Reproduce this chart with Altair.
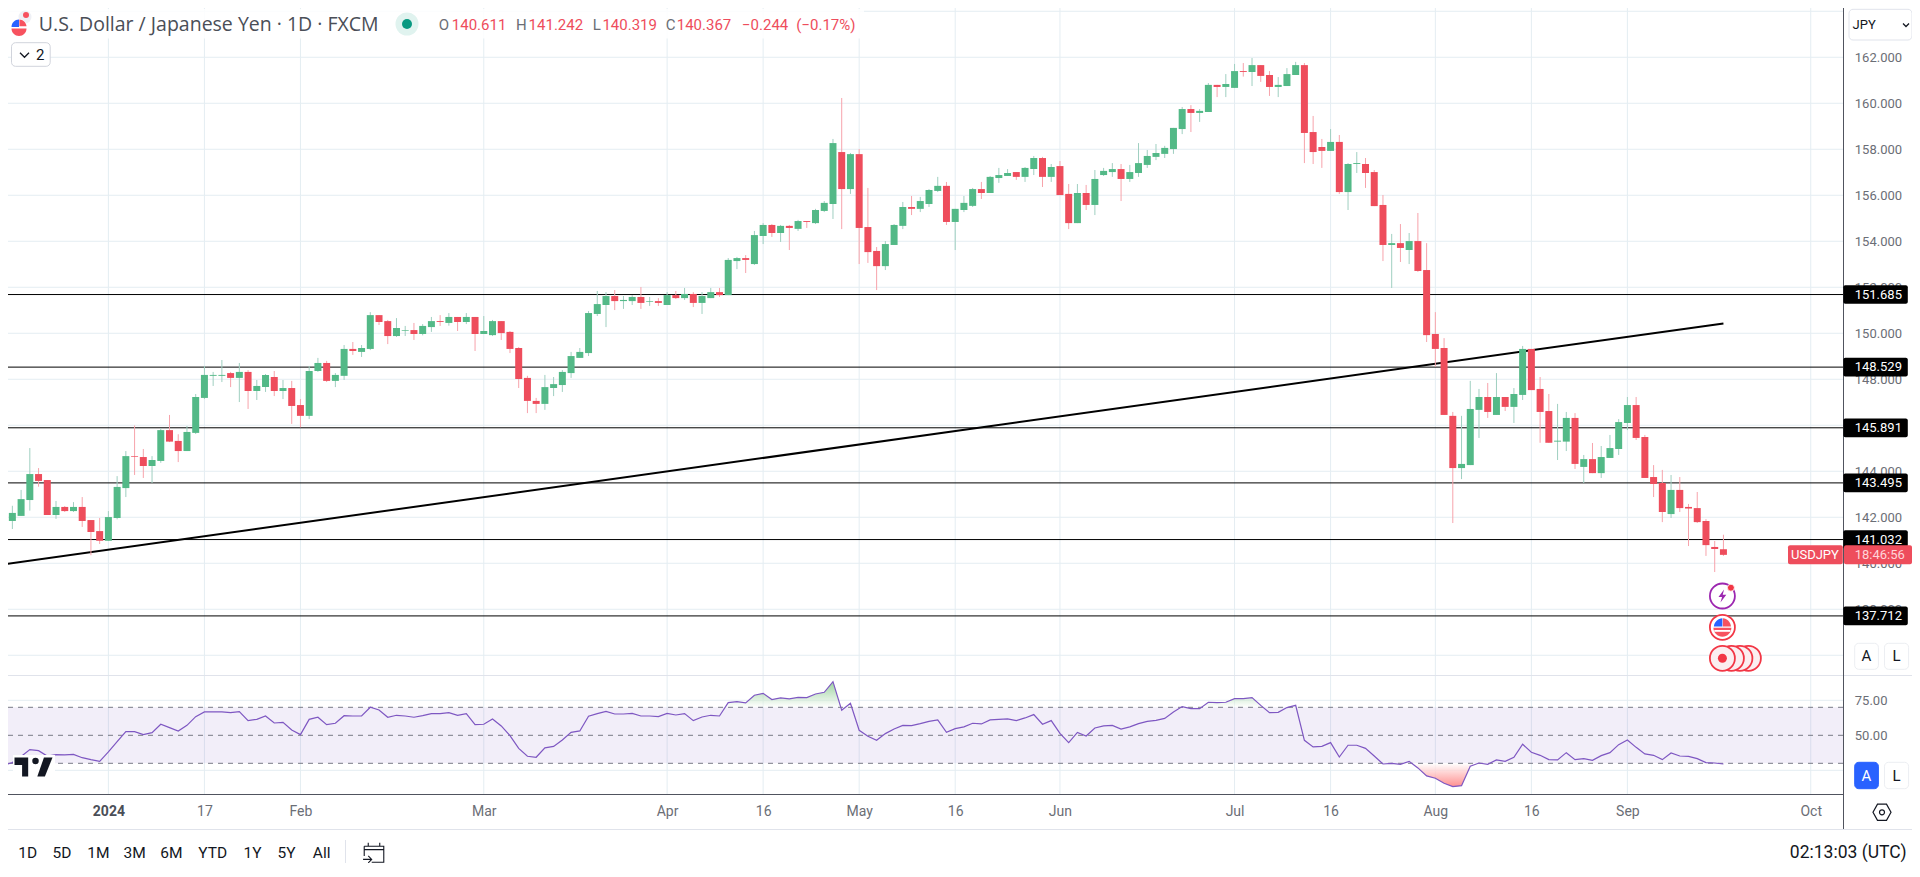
import altair as alt
import pandas as pd

first_bar = -12
opens = [142.93,141.84,142.06,142.75,143.88,143.62,142.10,142.45,142.27,142.45,141.88,141.40,
140.98,141.97,143.27,144.66,144.62,144.23,144.45,145.79,145.32,144.88,
145.67,147.19,148.15,148.15,148.27,148.06,148.32,147.49,147.66,148.10,
147.49,147.62,146.88,146.41,148.36,148.71,147.93,148.15,149.32,149.19,
149.32,150.79,150.53,149.88,150.11,150.14,149.97,150.27,150.53,150.45,
150.71,150.49,150.71,149.97,149.92,150.53,150.06,149.36,148.06,147.06,
146.93,147.62,147.75,148.27,148.93,149.14,150.84,151.23,151.62,151.40,
151.40,151.58,151.37,151.40,151.23,151.66,151.53,151.71,151.32,151.53,
151.79,151.66,153.14,153.27,153.01,154.23,154.71,154.36,154.67,154.54,
154.88,154.79,155.32,155.62,157.88,156.27,157.79,154.62,153.58,152.92,
153.84,154.67,155.49,155.41,155.62,156.19,156.41,154.84,155.36,155.54,
156.27,156.10,156.75,156.84,157.01,156.80,157.14,157.62,156.80,157.27,
156.06,154.79,156.10,155.58,156.88,157.01,157.14,156.71,156.97,157.32,
157.67,157.80,158.01,158.88,159.75,159.58,159.62,160.80,160.71,160.67,
161.40,161.36,161.66,161.23,160.71,160.75,161.23,161.66,158.75,158.10,
157.93,158.32,156.14,157.36,157.36,157.01,155.58,153.84,153.92,153.62,
154.01,152.75,149.97,149.36,146.41,144.14,144.27,146.67,147.23,146.45,
147.23,146.80,147.32,149.32,147.58,146.62,145.29,145.29,146.32,144.19,
144.53,143.92,144.58,144.97,146.10,146.88,145.49,143.75,143.49,142.14,
143.19,142.45,142.40,141.84,140.71,140.611]
closes = [141.85,142.19,142.79,143.88,143.58,142.10,142.45,142.27,142.45,141.84,141.36,140.98,
142.01,143.32,144.66,144.63,144.23,144.49,145.79,145.29,144.88,145.71,
147.23,148.19,148.19,148.19,148.06,148.32,147.49,147.71,148.19,147.49,
147.62,146.84,146.41,148.36,148.71,147.93,148.19,149.32,149.23,149.36,
150.79,150.49,149.88,150.23,150.14,149.97,150.32,150.53,150.49,150.71,
150.49,150.71,149.97,150.10,150.53,150.01,149.32,148.01,147.06,146.93,
147.66,147.79,148.32,149.01,149.19,150.88,151.27,151.62,151.40,151.45,
151.58,151.32,151.40,151.32,151.66,151.53,151.71,151.32,151.62,151.79,
151.66,153.19,153.27,153.19,154.27,154.71,154.36,154.67,154.58,154.88,
154.84,155.36,155.67,158.27,156.27,157.79,154.58,153.53,152.92,153.88,
154.71,155.49,155.41,155.75,156.23,156.41,154.84,155.41,155.67,156.27,
156.10,156.80,156.88,156.97,156.80,157.19,157.62,156.80,157.23,156.01,
154.79,156.10,155.58,156.71,157.06,157.14,156.71,157.01,157.40,157.71,
157.84,158.06,158.93,159.75,159.58,159.67,160.80,160.71,160.84,161.40,
161.36,161.66,161.19,160.71,160.80,161.27,161.66,158.71,157.88,157.93,
158.32,156.14,157.36,157.40,156.97,155.53,153.84,153.92,153.71,154.01,
152.71,149.92,149.32,146.45,144.14,144.32,146.71,147.23,146.58,147.23,
146.80,147.36,149.32,147.53,146.58,145.24,145.33,146.32,144.32,144.53,
143.92,144.62,145.01,146.14,146.88,145.45,143.71,143.45,142.23,143.19,
142.40,142.38,141.79,140.79,140.62,140.367]
highs = [142.97,142.50,143.19,145.01,144.14,143.62,142.71,142.49,142.66,142.88,141.88,141.97,
142.27,143.79,144.88,145.99,144.97,144.66,145.87,146.45,145.61,145.97,
147.36,148.58,148.32,148.84,148.32,148.71,148.40,147.97,148.23,148.36,
147.97,147.93,147.14,148.58,148.93,148.80,148.27,149.49,149.62,149.49,
150.92,150.79,150.58,150.66,150.32,150.45,150.40,150.71,150.79,150.88,
150.71,150.88,150.71,150.75,150.58,150.53,150.10,149.40,148.15,147.19,
148.19,148.10,148.40,149.19,149.36,150.97,151.84,151.79,151.88,151.62,
151.66,152.01,151.58,151.53,151.79,151.84,151.97,151.79,151.79,151.97,
151.97,153.27,153.32,153.40,154.45,154.79,154.75,154.71,154.71,154.93,
154.88,155.41,155.75,158.45,160.23,157.84,158.01,156.32,153.75,154.01,
154.75,155.71,155.97,155.93,156.27,156.80,156.58,155.41,155.97,156.32,
156.58,156.84,157.19,157.14,157.01,157.23,157.71,157.67,157.36,157.49,
156.49,156.49,156.45,157.10,157.19,157.40,157.36,157.32,158.27,157.97,
158.23,158.15,158.93,159.84,159.92,159.75,160.88,160.80,161.27,161.71,
161.75,161.97,161.66,161.40,161.14,161.53,161.80,161.75,159.45,158.45,
158.88,158.62,157.40,157.88,157.62,157.10,156.01,154.32,154.75,154.36,
155.23,153.92,150.92,149.79,146.58,146.41,147.93,147.58,147.84,148.27,
147.23,147.62,149.45,149.32,148.10,147.36,146.93,146.58,146.53,144.71,
145.23,145.10,145.58,146.27,147.23,147.23,145.58,144.27,144.06,143.84,
143.75,142.58,143.10,141.92,140.97,141.242]
lows = [141.04,141.49,142.06,142.29,143.33,142.10,141.93,142.23,142.23,141.58,140.35,140.84,
140.98,141.91,142.88,143.84,143.71,143.49,144.37,145.27,144.40,144.88,
145.62,147.14,147.71,147.88,147.66,147.01,146.71,147.10,147.45,147.27,
147.14,146.06,145.91,146.27,148.32,147.88,147.66,147.97,149.06,148.97,
149.27,150.36,149.53,149.84,149.88,149.71,149.91,150.06,150.32,150.33,
150.10,150.40,149.23,149.97,149.88,149.71,149.14,147.62,146.53,146.53,
146.67,147.27,147.45,148.06,148.93,149.01,150.75,150.27,151.01,151.06,
151.23,151.06,151.19,151.19,151.23,151.49,151.45,151.14,150.84,151.53,
151.58,151.66,152.79,152.62,152.97,153.88,154.19,153.97,153.62,154.45,
154.58,154.75,155.27,154.97,154.53,156.06,153.01,153.06,151.88,152.75,
153.84,154.53,155.14,155.27,155.49,156.14,154.71,153.62,155.27,155.49,
155.84,156.10,156.54,156.84,156.67,156.58,156.88,156.36,156.58,156.01,
154.53,154.79,155.36,155.14,156.84,156.80,155.75,156.58,156.80,157.19,
157.53,157.62,157.80,158.66,158.75,159.19,159.62,160.27,160.27,160.67,
161.16,160.75,160.93,160.32,160.27,160.75,161.23,157.40,157.36,157.19,
157.93,156.06,155.36,156.97,156.32,155.53,153.14,151.97,153.10,153.01,
152.67,149.62,148.55,146.45,141.75,143.66,144.27,145.45,146.32,146.45,
146.62,146.10,147.10,147.53,145.24,145.24,144.49,144.88,144.10,143.49,
143.92,143.71,144.58,144.71,145.79,145.36,143.71,142.88,141.79,141.97,
142.23,140.75,141.75,140.32,139.62,140.319]
rsi = [28.8,30.5,34.8,39.8,39.0,35.2,36.2,36.0,36.4,34.0,32.6,31.4,
38.1,45.5,52.6,52.6,50.5,51.9,57.9,55.5,53.1,57.1,
63.3,66.7,66.7,66.7,66.2,66.9,60.5,61.4,63.8,58.8,
59.3,53.8,50.5,61.4,62.9,57.6,58.6,64.0,63.8,63.8,
70.0,68.1,62.9,64.3,63.8,62.9,64.0,65.5,65.5,66.2,
64.3,65.5,57.6,57.9,61.7,56.7,49.8,40.7,35.0,34.3,
41.0,42.1,46.7,52.1,53.1,63.6,65.5,67.1,65.2,65.2,
65.7,63.8,63.8,63.3,65.7,64.5,65.5,60.5,63.1,64.3,
63.8,73.3,74.0,73.1,78.6,80.0,75.5,76.7,76.0,77.1,
76.9,79.5,80.7,88.3,67.9,72.9,53.6,49.3,46.4,51.2,
54.5,57.1,56.9,58.3,60.0,61.0,52.1,54.8,56.0,58.6,
58.1,61.0,61.4,61.7,60.5,62.4,64.8,57.9,60.5,51.4,
44.8,52.1,49.5,55.2,56.7,57.1,54.5,56.0,58.3,60.0,
60.7,62.1,66.7,70.5,69.0,69.0,73.6,73.3,73.6,76.2,
76.2,76.9,71.4,66.2,66.4,69.8,71.4,46.4,41.7,42.1,
44.8,34.5,42.9,42.9,40.7,35.2,29.5,30.0,29.3,31.4,
26.7,21.0,19.3,15.7,13.3,14.0,27.9,30.2,29.3,32.4,
31.4,34.3,43.6,37.9,35.7,32.6,32.4,37.6,32.6,33.3,
32.1,35.5,37.6,43.3,46.7,41.4,36.7,35.7,32.6,37.4,
35.2,35.0,33.3,30.5,30.2,29.5]

tick_bars = [0, 11, 22, 43, 64, 75, 86, 97, 109, 129, 140, 152, 163, 174, 195]
tick_labels = ["2024", "17", "Feb", "Mar", "Apr", "16", "May", "16", "Jun", "Jul", "16", "Aug", "16", "Sep", "Oct"]
price_labels = [138, 140, 142, 144, 146, 148, 150, 152, 154, 156, 158, 160, 162]
price_grid = [136, 138, 140, 142, 144, 146, 148, 150, 152, 154, 156, 158, 160, 162, 164]
rsi_labels = [75, 50]
rsi_grid = [75, 25]
rsi_levels = [70, 50, 30]
support_levels = [151.685, 148.529, 145.891, 143.495, 141.032, 137.712]
trend_bars = [-12.42, 185]
trend_prices = [139.93, 150.43]
ranges = ["1D", "5D", "1M", "3M", "6M", "YTD", "1Y", "5Y", "All"]

FONT = "Roboto"
M = 8
W, H = 1904, 855
AX = 1843.3 - M          # price axis position inside the frame
GREEN, RED = "#53b987", "#ee4d5c"
GREY = "#6b6e76"
DARK = "#131722"
GRIDC = "#e4edf2"
LABEL_SIZE = 13

xs = alt.Scale(domain=[-11.5, 206.6], nice=False, zero=False, padding=0)
ps = alt.Scale(domain=[164.143 - H / 23.0, 164.143], nice=False, zero=False)
rs = alt.Scale(domain=[50 - (M + H - 735.3) / 1.4, 569.5], nice=False, zero=False)

idx = list(range(first_bar, first_bar + len(opens)))
df = pd.DataFrame({"i": idx, "o": opens, "h": highs, "l": lows, "c": closes, "r": rsi})
df["top"] = df[["o", "c"]].max(axis=1)
df["bot"] = df[["o", "c"]].min(axis=1)
up = df[df.c >= df.o]
dn = df[df.c < df.o]


def X(f="i:Q"):
    return alt.X(f, scale=xs, axis=None)


def PY(f):
    return alt.Y(f, scale=ps, axis=None)


def RY(f):
    return alt.Y(f, scale=rs, axis=None)


def one():
    return alt.Chart(pd.DataFrame({"a": [0]}))


def ui_text(txt, x, y, size=13.3, color=DARK, align="left", weight="normal", font=FONT):
    return alt.Chart(pd.DataFrame({"t": [txt]})).mark_text(
        font=font, fontSize=size, color=color, align=align, baseline="middle", fontWeight=weight
    ).encode(x=alt.value(x - M), y=alt.value(y - M), text="t:N")


def ui_rect(x0, y0, x1, y1, fill="#ffffff", stroke=None, radius=0, opacity=1):
    kw = dict(fill=fill, opacity=opacity, cornerRadius=radius)
    if stroke:
        kw.update(stroke=stroke, strokeWidth=1)
    return one().mark_rect(**kw).encode(
        x=alt.value(x0 - M), x2=alt.value(x1 - M), y=alt.value(y0 - M), y2=alt.value(y1 - M)
    )


def ui_sym(shape, x, y, d, fill=None, stroke=None, sw=1.0):
    kw = dict(shape=shape, size=d * d, opacity=1, filled=bool(fill))
    if fill:
        kw["fill"] = fill
    if stroke:
        kw.update(stroke=stroke, strokeWidth=sw)
    return one().mark_point(**kw).encode(x=alt.value(x - M), y=alt.value(y - M))


CHEV = "M-1,-.5 L0,.5 L1,-.5"
layers = []

# grid
layers.append(alt.Chart(pd.DataFrame({"i": tick_bars})).mark_rule(color=GRIDC, strokeWidth=1).encode(
    x=X(), y=alt.value(0), y2=alt.value(794.3 - M)))
layers.append(alt.Chart(pd.DataFrame({"p": price_grid})).mark_rule(color=GRIDC, strokeWidth=1).encode(
    y=PY("p:Q"), x=alt.value(0), x2=alt.value(AX)))
layers.append(alt.Chart(pd.DataFrame({"p": rsi_grid})).mark_rule(color=GRIDC, strokeWidth=1).encode(
    y=RY("p:Q"), x=alt.value(0), x2=alt.value(AX)))

# RSI band
layers.append(one().transform_calculate(a="70", b="30").mark_rect(color="#7e57c2", opacity=0.1).encode(
    y=RY("a:Q"), y2="b:Q", x=alt.value(0), x2=alt.value(AX)))

# real axes: price, RSI, time
layers.append(alt.Chart(pd.DataFrame({"p": price_labels})).mark_point(opacity=0).encode(
    x=alt.value(0),
    y=alt.Y("p:Q", scale=ps, title=None, axis=alt.Axis(
        orient="right", offset=AX - W, values=price_labels, format=".3f", domain=False, ticks=False,
        grid=False, labelPadding=11, labelFont=FONT, labelFontSize=LABEL_SIZE, labelColor=GREY,
        labelOverlap=False, labelBound=False, labelFlush=False, labelLimit=100))))
layers.append(alt.Chart(pd.DataFrame({"p": rsi_labels})).mark_point(opacity=0).encode(
    x=alt.value(0),
    y=alt.Y("p:Q", scale=rs, title=None, axis=alt.Axis(
        orient="right", offset=AX - W, values=rsi_labels, format=".2f", domain=False, ticks=False,
        grid=False, labelPadding=11, labelFont=FONT, labelFontSize=LABEL_SIZE, labelColor=GREY,
        labelOverlap=False, labelBound=False, labelFlush=False, labelLimit=100))))
lab_js = "{" + ",".join(f"'{b}':'{t}'" for b, t in zip(tick_bars, tick_labels)) + "}[datum.value]"
layers.append(alt.Chart(pd.DataFrame({"i": tick_bars})).mark_point(opacity=0).encode(
    y=alt.value(0),
    x=alt.X("i:Q", scale=xs, title=None, axis=alt.Axis(
        orient="bottom", offset=794.3 - M - H, values=tick_bars, labelExpr=lab_js, domain=False, ticks=False,
        grid=False, labelPadding=17, labelFont=FONT, labelFontSize=14,
        labelColor={"condition": {"test": "datum.value==0", "value": "#4a4e57"}, "value": GREY},
        labelFontWeight={"condition": {"test": "datum.value==0", "value": "bold"}, "value": "normal"},
        labelBaseline="middle", labelOverlap=False, labelBound=False, labelFlush=False))))

# horizontal levels and trendline
layers.append(alt.Chart(pd.DataFrame({"p": support_levels})).mark_rule(color="#000000", strokeWidth=1).encode(
    y=PY("p:Q"), x=alt.value(0), x2=alt.value(AX)))
layers.append(alt.Chart(pd.DataFrame({"i": trend_bars, "p": trend_prices})).mark_line(color="#000000", strokeWidth=2).encode(
    x=X(), y=PY("p:Q")))

# candles
layers.append(alt.Chart(up).mark_rule(color="#9fcfc0", strokeWidth=1).encode(x=X(), y=PY("h:Q"), y2="l:Q"))
layers.append(alt.Chart(dn).mark_rule(color="#f7a3ab", strokeWidth=1).encode(x=X(), y=PY("h:Q"), y2="l:Q"))
layers.append(alt.Chart(up).mark_bar(size=7, color=GREEN, orient="vertical").encode(x=X(), y=PY("top:Q"), y2="bot:Q"))
layers.append(alt.Chart(dn).mark_bar(size=7, color=RED, orient="vertical").encode(x=X(), y=PY("bot:Q"), y2="top:Q"))


# RSI shading, clipped at the 70 / 30 levels where the line crosses them
def shade(level, above):
    rows = []
    recs = list(zip(idx, rsi))
    for k, (a, ra) in enumerate(recs):
        inside = ra > level if above else ra < level
        rows.append((a, ra if inside else level))
        if k + 1 < len(recs):
            b, rb = recs[k + 1]
            if (ra - level) * (rb - level) < 0:
                rows.append((a + (level - ra) / (rb - ra), level))
    return pd.DataFrame(rows, columns=["i", "v"]).assign(lv=level)


grad_g = alt.LinearGradient(gradient="linear", stops=[alt.GradientStop(color="#4caf50", offset=0), alt.GradientStop(color="#ffffff", offset=1)], x1=0, x2=0, y1=0, y2=1)
grad_r = alt.LinearGradient(gradient="linear", stops=[alt.GradientStop(color="#ffffff", offset=0), alt.GradientStop(color="#ff6b6b", offset=1)], x1=0, x2=0, y1=0, y2=1)
layers.append(alt.Chart(shade(70, True)).mark_area(color=grad_g, opacity=0.55).encode(x=X(), y=RY("v:Q"), y2="lv:Q"))
layers.append(alt.Chart(shade(30, False)).mark_area(color=grad_r, opacity=0.75).encode(x=X(), y=RY("lv:Q"), y2="v:Q"))

layers.append(alt.Chart(pd.DataFrame({"p": rsi_levels})).mark_rule(color="#787b86", strokeWidth=1, strokeDash=[5, 5]).encode(
    y=RY("p:Q"), x=alt.value(0), x2=alt.value(AX)))
layers.append(alt.Chart(df).mark_line(color="#7e57c2", strokeWidth=1.2).encode(x=X(), y=RY("r:Q")))

# logo
layers.append(ui_rect(13, 755, 55, 778))
layers.append(ui_sym("M-1,-.5 H-.28 V.5 H-.6 V-.1 H-1 Z", 33.5, 767, 38, fill=DARK))
layers.append(ui_sym("circle", 35.5, 761, 6.5, fill=DARK))
layers.append(ui_sym("M.2,.5 L.55,-.5 H1 L.6,.5 Z", 33.5, 767, 38, fill=DARK))

# panes and axes lines
layers.append(ui_rect(0, 675, 1912, 676, fill="#e0e3eb"))
layers.append(ui_rect(0, 829, 1912, 830, fill="#e0e3eb"))
layers.append(ui_rect(0, 794, 1843, 795, fill="#50535e"))
layers.append(ui_rect(1843, 4, 1844, 829, fill="#50535e"))

# header mask and legend
layers.append(ui_rect(8, 9, 864, 38.5, opacity=0.85))
layers.append(ui_sym("circle", 25, 17, 13, fill="#eef0f5"))
layers.append(ui_sym("circle", 26, 15, 6, fill="#f7525f"))
layers.append(ui_sym("circle", 19, 27, 16, fill="#ffffff"))
layers.append(ui_sym("M-1,.2 A1,1 0 0,0 1,.2 Z", 19, 27, 15, fill="#f7525f"))
layers.append(ui_sym("M-1,0 A1,1 0 0,1 0,-1 V0 Z", 19, 27, 15, fill="#2962ff"))
layers.append(ui_sym("M.05,-1 A1,1 0 0,1 1,-.1 H.05 Z", 19, 27, 15, fill="#f7525f"))
layers.append(ui_text("U.S. Dollar / Japanese Yen · 1D · FXCM", 38.8, 25, size=19.5, color="#4a4e57", font="Open Sans"))
layers.append(ui_sym("circle", 407, 24, 23, fill="#e0f3ef"))
layers.append(ui_sym("circle", 407, 24, 10, fill="#089981"))
for t, x, c in [("O", 438.8, GREY), ("140.611", 451.8, RED), ("H", 516, GREY), ("141.242", 528.6, RED),
                ("L", 592.7, GREY), ("140.319", 602.4, RED), ("C", 665.7, GREY), ("140.367", 676.7, RED),
                ("−0.244", 742, RED), ("(−0.17%)", 796.3, RED)]:
    layers.append(ui_text(t, x, 25, size=15, color=c))
layers.append(ui_rect(11.5, 42.7, 50.2, 66.3, stroke="#d1d4dc", radius=4))
layers.append(ui_sym(CHEV, 24.5, 55, 9, stroke=DARK, sw=1.3))
layers.append(ui_text("2", 36, 54.5, size=15, color=DARK))

# JPY selector
layers.append(ui_rect(1849, 9.3, 1914 - 2, 40, stroke="#e0e3eb", radius=4))
layers.append(ui_text("JPY", 1852.6, 24.5, size=13, color=DARK))
layers.append(ui_sym(CHEV, 1906, 25, 6, stroke=DARK, sw=1.3))

# level labels
labs = pd.DataFrame({"p": support_levels})
labs["a"] = labs.p + 0.406
labs["b"] = labs.p - 0.406
layers.append(alt.Chart(labs).mark_rect(color="#000000", cornerRadius=2).encode(
    y=PY("a:Q"), y2="b:Q", x=alt.value(AX), x2=alt.value(1907.8 - M)))
layers.append(alt.Chart(labs).mark_text(font=FONT, fontSize=LABEL_SIZE, color="#ffffff", align="left", baseline="middle").encode(
    y=PY("p:Q"), x=alt.value(1854.7 - M), text=alt.Text("p:Q", format=".3f")))

# last price label
layers.append(ui_rect(1788, 545.2, 1842.8, 564.2, fill=RED, radius=2))
layers.append(ui_rect(1844, 545.2, 1912, 564.2, fill=RED, radius=2))
layers.append(ui_text("USDJPY", 1791, 555, size=LABEL_SIZE, color="#ffffff"))
layers.append(ui_text("18:46:56", 1854.7, 555, size=LABEL_SIZE, color="#ffd5d9"))

# A / L buttons
for y0, y1, blue in [(643.3, 669.3, False), (762.3, 788.7, True)]:
    layers.append(ui_rect(1854.7, y0, 1878.4, y1, fill="#2962ff" if blue else "#ffffff", stroke="#2962ff" if blue else "#eceef2", radius=4))
    layers.append(ui_rect(1884.5, y0, 1908.6, y1, stroke="#eceef2", radius=4))
    layers.append(ui_text("A", 1866.5, (y0 + y1) / 2, size=15, color="#ffffff" if blue else DARK, align="center"))
    layers.append(ui_text("L", 1896.5, (y0 + y1) / 2, size=15, color=DARK, align="center"))

# events
EV = 1722.4
layers.append(ui_sym("circle", EV, 596, 25, fill="#ffffff", stroke="#9c27b0", sw=1.8))
layers.append(ui_sym("M.25,-1 L-.6,.15 H-.05 L-.3,1 L.6,-.2 H.05 Z", EV, 596, 13, fill="#9c27b0"))
layers.append(ui_sym("circle", EV + 8.5, 587.7, 7, fill="#f23645", stroke="#ffffff", sw=0.8))
layers.append(ui_sym("circle", EV, 627.3, 25, fill="#ffffff", stroke="#f23645", sw=1.8))
layers.append(ui_sym("M-1,.05 H1 A1,1 0 0,1 -1,.05 Z", EV, 627.3, 18, fill="#f7525f"))
layers.append(ui_sym("M-.9,.3 H.9 V.5 H-.9 Z", EV, 627.3, 18, fill="#ffffff"))
layers.append(ui_sym("M-.95,-.1 A1,1 0 0,1 0,-1 V-.1 Z", EV, 627.3, 18, fill="#2962ff"))
layers.append(ui_sym("M.05,-1 A1,1 0 0,1 .95,-.1 H.05 Z", EV, 627.3, 18, fill="#f7525f"))
for cx in [EV + 26, EV + 17.5, EV + 9, EV]:
    layers.append(ui_sym("circle", cx, 658.3, 25, fill="#fbeef0", stroke="#f23645", sw=1.8))
layers.append(ui_sym("circle", EV, 658.3, 9, fill="#f23645"))

# settings
layers.append(ui_sym("M-.5,-.9 H.5 L1,0 L.5,.9 H-.5 L-1,0 Z", 1882, 812.3, 18, stroke=DARK, sw=1.2))
layers.append(ui_sym("circle", 1882, 812.3, 5, stroke=DARK, sw=1.2))

# bottom bar
for t, x in zip(ranges, [27.8, 62, 98.4, 134.7, 171.4, 212.7, 252.6, 286.5, 321.6]):
    layers.append(ui_text(t, x, 853, size=15.5, color=DARK, align="center"))
layers.append(ui_rect(345, 840, 346, 863, fill="#e0e3eb"))
layers.append(ui_sym("M-.85,-.55 H.85 V.85 H-.2 M-.85,.3 V-.55 M-.85,-.25 H.85 M-.5,-.85 V-.55 M.5,-.85 V-.55 M-.95,.6 H-.2 M-.5,.3 L-.2,.6 L-.5,.9",
                     374, 852.5, 23, stroke=DARK, sw=1.1))
layers.append(ui_text("02:13:03 (UTC)", 1906.5, 853, size=17.5, color=DARK, align="right"))

chart = alt.layer(*layers).resolve_scale(y="independent").resolve_axis(x="independent").properties(
    width=W, height=H, padding=0, autosize=alt.AutoSizeParams(type="none"), background="#ffffff"
).configure_view(stroke=None)

chart.save("out.html", embed_options={"renderer": "svg", "actions": False})
